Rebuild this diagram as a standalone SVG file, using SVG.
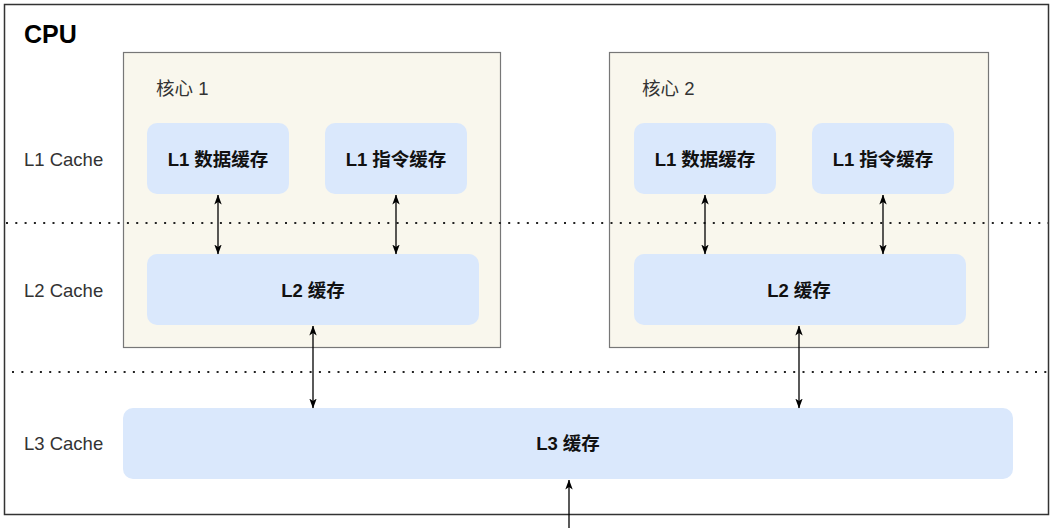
<svg xmlns="http://www.w3.org/2000/svg" width="1060" height="528" viewBox="0 0 1060 528">
<defs>
<marker id="ah" viewBox="0 0 10 10" refX="9.5" refY="5" markerWidth="10" markerHeight="10" markerUnits="userSpaceOnUse" orient="auto-start-reverse">
<path d="M0,1.3 L10,5 L0,8.7 L2.5,5 Z" fill="#000"/>
</marker>
<style>
text{font-family:"Liberation Sans","Noto Sans CJK SC",sans-serif;}
.core{fill:#f9f7ed;stroke:#777;stroke-width:1.2;}
.blue{fill:#dae8fc;}
.bt{font-size:18.5px;font-weight:bold;fill:#111;text-anchor:middle;dominant-baseline:central;}
.lbl{font-size:18.5px;fill:#333;dominant-baseline:central;}
.dot{stroke:#222;stroke-width:2;stroke-dasharray:2 7.3;fill:none;}
.arr{stroke:#000;stroke-width:1.3;fill:none;marker-end:url(#ah);marker-start:url(#ah);}
.arr1{stroke:#000;stroke-width:1.3;fill:none;marker-end:url(#ah);}
</style>
</defs>
<rect width="1060" height="528" fill="#fff"/>
<g id="cpu">
<rect x="4.5" y="4.5" width="1044" height="510" fill="#fff" stroke="#333" stroke-width="1.5"/>
<text x="24" y="34" font-size="25" font-weight="bold" fill="#000" dominant-baseline="central">CPU</text>
</g>
<g id="levels">
<text class="lbl" x="24" y="159">L1 Cache</text>
<text class="lbl" x="24" y="290">L2 Cache</text>
<text class="lbl" x="24" y="443">L3 Cache</text>
</g>
<g id="core1">
<rect class="core" x="123.5" y="52.5" width="377" height="295"/>
<text class="lbl" x="156" y="88">核心 1</text>
</g>
<g id="core2">
<rect class="core" x="609.5" y="52.5" width="379" height="295"/>
<text class="lbl" x="642" y="88">核心 2</text>
</g>
<g id="dividers">
<line class="dot" x1="6" y1="223" x2="1048" y2="223"/>
<line class="dot" x1="12" y1="372" x2="1048" y2="372"/>
</g>
<g id="c1-l1d"><rect class="blue" x="147" y="123" width="142" height="71" rx="10"/><text class="bt" x="218" y="159">L1 数据缓存</text></g>
<g id="c1-l1i"><rect class="blue" x="325" y="123" width="142" height="71" rx="10"/><text class="bt" x="396" y="159">L1 指令缓存</text></g>
<g id="c1-l2"><rect class="blue" x="147" y="254" width="332" height="71" rx="10"/><text class="bt" x="313" y="290">L2 缓存</text></g>
<g id="c2-l1d"><rect class="blue" x="634" y="123" width="142" height="71" rx="10"/><text class="bt" x="705" y="159">L1 数据缓存</text></g>
<g id="c2-l1i"><rect class="blue" x="812" y="123" width="142" height="71" rx="10"/><text class="bt" x="883" y="159">L1 指令缓存</text></g>
<g id="c2-l2"><rect class="blue" x="634" y="254" width="332" height="71" rx="10"/><text class="bt" x="799" y="290">L2 缓存</text></g>
<g id="l3"><rect class="blue" x="123" y="408" width="890" height="71" rx="10"/><text class="bt" x="568" y="443">L3 缓存</text></g>
<g id="connectors">
<line class="arr" x1="218" y1="195" x2="218" y2="254"/>
<line class="arr" x1="396" y1="195" x2="396" y2="254"/>
<line class="arr" x1="705" y1="195" x2="705" y2="254"/>
<line class="arr" x1="883" y1="195" x2="883" y2="254"/>
<line class="arr" x1="313" y1="326" x2="313" y2="408"/>
<line class="arr" x1="799" y1="326" x2="799" y2="408"/>
<line class="arr1" x1="569" y1="530" x2="569" y2="480"/>
</g>
</svg>
